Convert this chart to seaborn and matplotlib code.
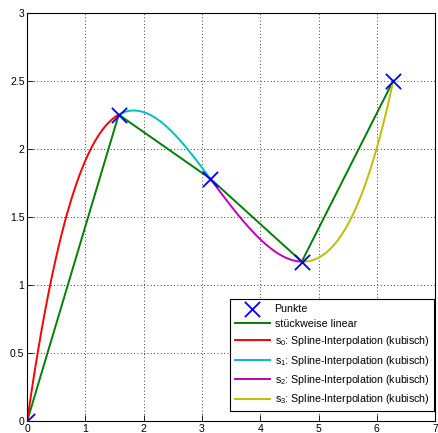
import numpy as np
import pandas as pd
import matplotlib
matplotlib.use("Agg")
import matplotlib.pyplot as plt
import seaborn as sns

# Knots
x_knots = [0.0, np.pi / 2, np.pi, 3 * np.pi / 2, 2 * np.pi]
y_knots = [0.0, 2.25, 1.78, 1.17, 2.5]
# end slopes of the clamped cubic spline
slope_start = 3.0
slope_end = 2.0
seg_labels = ["$\\mathregular{s_0}$: Spline-Interpolation (kubisch)",
              "$\\mathregular{s_1}$: Spline-Interpolation (kubisch)",
              "$\\mathregular{s_2}$: Spline-Interpolation (kubisch)",
              "$\\mathregular{s_3}$: Spline-Interpolation (kubisch)"]
seg_colors = ["#ff0000", "#00bfbf", "#bf00bf", "#bfbf00"]
x_ticks = [0, 1, 2, 3, 4, 5, 6, 7]
y_ticks = [0, 0.5, 1, 1.5, 2, 2.5, 3]
y_ticklabels = ["0", "0.5", "1", "1.5", "2", "2.5", "3"]

# clamped cubic spline through the knots (as the legend describes)
xk = np.array(x_knots); yk = np.array(y_knots)
n = len(xk) - 1
h = np.diff(xk)
A = np.zeros((n + 1, n + 1)); r = np.zeros(n + 1)
A[0, 0] = 1; r[0] = slope_start
A[n, n] = 1; r[n] = slope_end
for i in range(1, n):
    A[i, i - 1] = 1 / h[i - 1]
    A[i, i] = 2 / h[i - 1] + 2 / h[i]
    A[i, i + 1] = 1 / h[i]
    r[i] = 3 * ((yk[i] - yk[i - 1]) / h[i - 1] ** 2 + (yk[i + 1] - yk[i]) / h[i] ** 2)
m = np.linalg.solve(A, r)

plt.rcParams["font.family"] = ["Liberation Sans", "DejaVu Sans"]
fig = plt.figure(figsize=(4.39, 4.33), dpi=100)
ax = fig.add_axes([0.062, 0.028, 0.929, 0.943])

sns.scatterplot(x=x_knots, y=y_knots, marker="x", s=120, color="#0000ff",
                linewidth=1.3, ax=ax, label="Punkte", zorder=5)
sns.lineplot(x=x_knots, y=y_knots, color="#008000", linewidth=1.4, ax=ax,
             label="stückweise linear", sort=False)
for i in range(n):
    t = np.linspace(0, 1, 100)
    xs = xk[i] + t * h[i]
    h00 = 2 * t ** 3 - 3 * t ** 2 + 1
    h10 = t ** 3 - 2 * t ** 2 + t
    h01 = -2 * t ** 3 + 3 * t ** 2
    h11 = t ** 3 - t ** 2
    ys = h00 * yk[i] + h10 * h[i] * m[i] + h01 * yk[i + 1] + h11 * h[i] * m[i + 1]
    sns.lineplot(x=xs, y=ys, color=seg_colors[i], linewidth=1.4, ax=ax,
                 label=seg_labels[i], sort=False)

ax.set_xlim(0, 7)
ax.set_ylim(0, 3)
ax.set_xticks(x_ticks)
ax.set_yticks(y_ticks)
ax.set_yticklabels(y_ticklabels)
ax.grid(True, linestyle=(0, (1, 3)), color="black", linewidth=0.6)
ax.tick_params(direction="in", labelsize=7.5, pad=2, length=4, width=0.6)
for s in ax.spines.values():
    s.set_linewidth(0.8)
ax.set_xlabel(""); ax.set_ylabel("")

leg = ax.legend(loc="lower right", bbox_to_anchor=(0.998, 0.024), fontsize=7.7,
                frameon=True, fancybox=False, edgecolor="black", framealpha=1,
                borderaxespad=0.0, handlelength=3.3, labelspacing=0.5,
                borderpad=0.45, handletextpad=0.45)
leg.get_frame().set_linewidth(0.8)

fig.savefig("out.png", dpi=100)
